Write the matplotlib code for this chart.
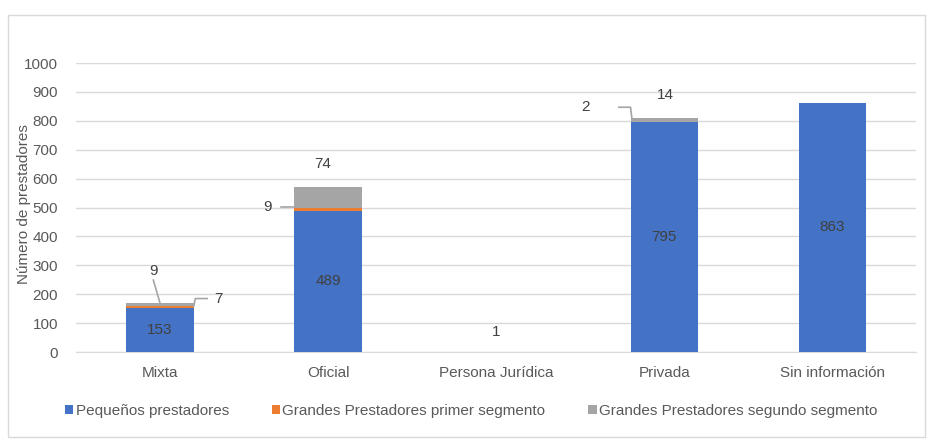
import numpy as np
import matplotlib.pyplot as plt
from matplotlib.patches import Rectangle

plt.rcParams['font.family'] = ['Liberation Sans', 'DejaVu Sans']

categories = ['Mixta', 'Oficial', 'Persona Jurídica', 'Privada', 'Sin información']
pequenos = [153, 489, 1, 795, 863]
primer = [7, 9, 0, 2, 0]
segundo = [9, 74, 0, 14, 0]
series_names = ['Pequeños prestadores', 'Grandes Prestadores primer segmento',
                'Grandes Prestadores segundo segmento']
colors = ['#4472C4', '#ED7D31', '#A5A5A5']

fig = plt.figure(figsize=(9.33, 4.47), dpi=100)
ax = fig.add_axes([0.0815, 0.2125, 0.9005, 0.6465])

x = np.arange(len(categories))
w = 0.4
p = np.array(pequenos)
o = np.array(primer)
s = np.array(segundo)
b1 = ax.bar(x, p, w, color=colors[0], label=series_names[0], zorder=3)
b2 = ax.bar(x, o, w, bottom=p, color=colors[1], label=series_names[1], zorder=3)
b3 = ax.bar(x, s, w, bottom=p + o, color=colors[2], label=series_names[2], zorder=3)

ax.set_xlim(-0.5, len(categories) - 0.5)
ax.set_ylim(0, 1000)
ax.set_yticks(np.arange(0, 1001, 100))
ax.grid(axis='y', color='#D9D9D9', linewidth=1, zorder=0)
for sp in ['top', 'right', 'left']:
    ax.spines[sp].set_visible(False)
ax.spines['bottom'].set_color('#D9D9D9')
ax.tick_params(axis='both', length=0, labelsize=11, colors='#595959')
ax.tick_params(axis='y', pad=13)
ax.tick_params(axis='x', pad=10)
ax.set_xticks(x)
ax.set_xticklabels(categories)
ax.set_ylabel('Número de prestadores', fontsize=11, color='#595959')
ax.yaxis.set_label_coords(-0.0535, 0.512)

txt = dict(fontsize=11, color='#404040', ha='center', va='center', zorder=5)
lc = '#A5A5A5'

# blue labels inside bars
for i, v in enumerate(pequenos):
    ax.text(x[i], max(v / 2, 70), str(v), **txt)

# Mixta
top = p[0] + o[0] + s[0]
ax.text(x[0] - 0.04, top + 110, str(segundo[0]), **txt)
ax.plot([x[0] - 0.04, x[0]], [top + 80, top], color=lc, lw=1.2, zorder=4)
ax.text(x[0] + 0.35, p[0] + o[0] + 25, str(primer[0]), **txt)
ax.plot([x[0] + w / 2, x[0] + w / 2 + 0.01, x[0] + w / 2 + 0.08],
        [p[0] + o[0] - 2, p[0] + o[0] + 25, p[0] + o[0] + 25], color=lc, lw=1.2, zorder=4)

# Oficial
top = p[1] + o[1] + s[1]
ax.text(x[1] - 0.03, top + 80, str(segundo[1]), **txt)
ax.text(x[1] - 0.36, p[1] + o[1] + 5, str(primer[1]), **txt)
ax.plot([x[1] - 0.28, x[1] - w / 2], [p[1] + o[1] + 5, p[1] + o[1] + 5],
        color=lc, lw=1.2, zorder=4)

# Privada
top = p[3] + o[3] + s[3]
ax.text(x[3] + 0.01, top + 80, str(segundo[3]), **txt)
ax.text(x[3] - 0.47, p[3] + o[3] + 50, str(primer[3]), **txt)
ax.plot([x[3] - 0.27, x[3] - 0.2, x[3] - w / 2 + 0.01],
        [p[3] + o[3] + 50, p[3] + o[3] + 50, p[3] + o[3] + 2],
        color=lc, lw=1.2, zorder=4)

leg = fig.legend(handles=[b1, b2, b3], loc='center', bbox_to_anchor=(0.505, 0.08),
                 ncol=3, frameon=False, fontsize=11, handlelength=0.55, handleheight=0.55,
                 handletextpad=0.15, columnspacing=2.8, labelcolor='#595959')

fig.patches.append(Rectangle((0.0086, 0.022), 0.983, 0.944, transform=fig.transFigure,
                             fill=False, edgecolor='#D9D9D9', linewidth=1))

fig.savefig('out.png', dpi=100, facecolor='white')
